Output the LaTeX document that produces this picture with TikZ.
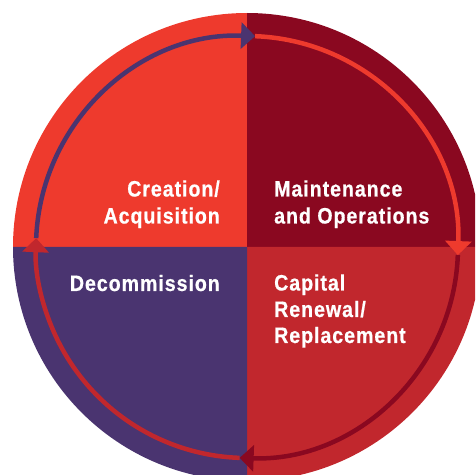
\documentclass[tikz,border=0pt]{standalone}
\usepackage{fontspec}
\setmainfont{Liberation Sans}[FakeStretch=0.88,LetterSpace=4.2,BoldFeatures={FakeBold=0.6}]
\usetikzlibrary{arrows.meta}
\definecolor{cOrange}{HTML}{EE3A2D}
\definecolor{cMaroon}{HTML}{8A0820}
\definecolor{cRed}{HTML}{C1272D}
\definecolor{cPurple}{HTML}{4A3470}
\tikzset{
  lbl/.style={text=white,inner sep=0pt,font=\bfseries\fontsize{22.3}{27}\selectfont},
  cyc/.style={line width=4.5pt,-{Triangle[length=14pt,width=26pt]}}
}
\begin{document}
\begin{tikzpicture}[x=1pt,y=1pt]
\useasboundingbox (0,0) rectangle (475,475);
\clip (0,0) rectangle (475,475);
\coordinate (c) at (247,228);
\fill[cOrange] (c) -- ++(0,234) arc[start angle=90,end angle=180,radius=234] -- cycle;
\fill[cMaroon] (c) -- ++(234,0) arc[start angle=0,end angle=90,radius=234] -- cycle;
\fill[cRed] (c) -- ++(0,-234) arc[start angle=270,end angle=360,radius=234] -- cycle;
\fill[cPurple] (c) -- ++(-234,0) arc[start angle=180,end angle=270,radius=234] -- cycle;
\draw[cyc,cPurple] ([shift={(177.6:211)}]c) arc[start angle=177.6,end angle=87.8,radius=211];
\draw[cyc,cOrange] ([shift={(87.8:211)}]c) arc[start angle=87.8,end angle=-2.2,radius=211];
\draw[cyc,cMaroon] ([shift={(-2.2:211)}]c) arc[start angle=-2.2,end angle=-92,radius=211];
\draw[cyc,cRed] ([shift={(268:211)}]c) arc[start angle=268,end angle=177.6,radius=211];
\node[lbl,anchor=base east] (cr1) at (220,278.5) {Creation/};
\node[lbl,anchor=base east] (cr2) at (220,251.5) {Acquisition};
\node[lbl,anchor=base west] (ma1) at (274,278.5) {Maintenance};
\node[lbl,anchor=base west] (ma2) at (274,251.5) {and Operations};
\node[lbl,anchor=base east] (de1) at (220,184) {Decommission};
\node[lbl,anchor=base west] (ca1) at (274,184.5) {Capital};
\node[lbl,anchor=base west] (ca2) at (274,158) {Renewal/};
\node[lbl,anchor=base west] (ca3) at (274,132) {Replacement};
\end{tikzpicture}
\end{document}
